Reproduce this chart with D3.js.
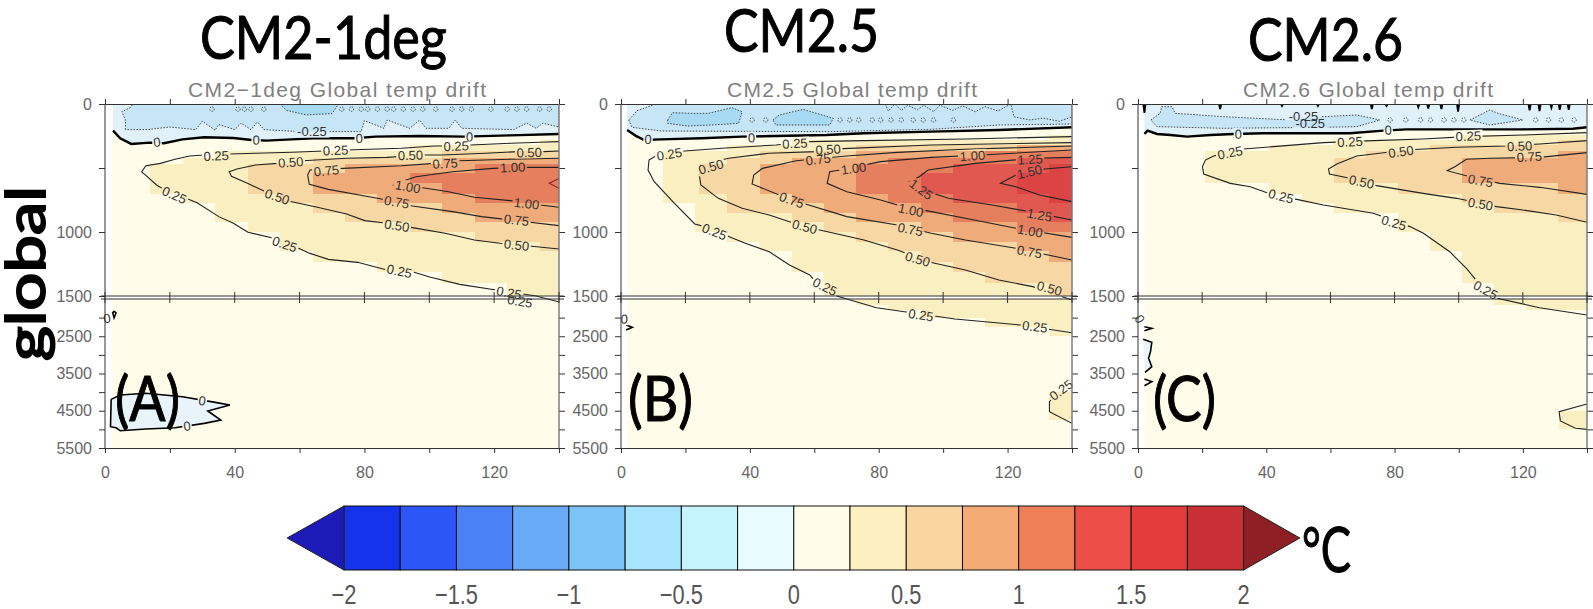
<!DOCTYPE html>
<head>
  <meta charset="utf-8">
  <script src="https://d3js.org/d3.v7.min.js"></script>
  <style>
    body { margin:0; background:#fff; }
    text { font-family: "Liberation Sans", sans-serif; }
    .big { font-family: Lato, "Open Sans", sans-serif; fill:#000; stroke:#000; stroke-width:1px; }
    .tick text { fill:#666; font-size:16px; font-family:"Liberation Sans", sans-serif; }
    .tick line, .domain { stroke:#333; }
  </style>
</head>
<body>
  <script>
    // colour bar
    var barBreaks = [-2,-1.75,-1.5,-1.25,-1,-0.75,-0.5,-0.25,0,0.25,0.5,0.75,1,1.25,1.5,1.75,2];
    var barColors = ["#1433ea","#2c56f5","#4a82f5","#68aaf5","#7cc4f5","#a8e4fb","#c5f4fd","#e8fcfd","#fffdea","#fdefc0","#f9d6a0","#f4ab76","#ee8058","#ec4f48","#e43c3c","#c93035"];
    var barTicks = [-2,-1.5,-1,-0.5,0,0.5,1,1.5,2];

    // colours inside the plots, one per band from 0.25 up
    var bandLevels = [0.25,0.5,0.75,1,1.25,1.5];
    var bandColors = ["#faefc0","#f7d8a4","#efac7a","#e67f5e","#e0584f","#dc4343"];

    // model depth levels, the fill snaps to these
    var gridDepths = [0,40,80,120,160,200,240,280,320,370,420,470,540,620,700,776,850,924,1000,1075,1150,1232,1315,1401,1500,1650,1800,2000,2250,2500,2750,3000,3250,3500,3750,4000,4250,4500,4750,5000,5250,5500];

    var xTicks = [0,20,40,60,80,100,120,140];
    var yTicks = [0,500,1000,1500,2000,2500,3000,3500,4000,4500,5000,5500];
    var yLabels = [0,1000,1500,2500,3500,4500,5500];

    // panel A, contours as [latitude, depth]
    var a0 = [[2.5,208],[4.7,268],[8.1,312],[13.7,302],[18.2,307],[23.9,276],[30.6,260],[39.6,266],[45.2,281],[49.7,286],[57.6,276],[64.4,268],[76.8,268],[83.5,255],[97,250],[110.5,255],[125,245],[140,234]];
    var a025 = [[140,294],[134.1,299],[125.1,307],[112.8,320],[108.3,328],[101.5,328],[91.4,346],[74.5,359],[67.7,367],[57.6,377],[46.4,385],[38.5,391],[30.6,398],[26.1,406],[21.6,432],[17.1,464],[12.6,482],[11.3,531],[12.6,557],[16,635],[18.2,667],[25,737],[28.4,771],[35.1,880],[39.6,932],[44.1,1002],[52,1049],[58.7,1115],[63.2,1167],[68.9,1214],[77.9,1237],[86.9,1297],[94.8,1310],[100.4,1354],[109.4,1409],[120.6,1453],[133,1500],[140,1580]];
    var a050 = [[140,367],[135.3,372],[127.4,372],[117.3,385],[103.8,398],[98.1,398],[86.9,417],[74.5,424],[61,443],[53.1,464],[46.4,477],[40.7,508],[38.3,529],[39,565],[44.1,622],[49.7,687],[57.6,763],[65.5,807],[74.5,859],[80.1,911],[86.9,932],[94.8,966],[104.9,1010],[113.9,1062],[121.8,1088],[130.8,1109],[140,1133]];
    var a075 = [[140,424],[125.1,432],[109.4,443],[101.5,464],[91.4,482],[73.4,503],[63.2,516],[62.5,555],[63,628],[68.9,667],[80.1,719],[86.9,750],[94.8,797],[107.2,841],[116.1,880],[125.1,906],[140,950]];
    var a100 = [[140,495],[128.5,495],[119.6,503],[107.2,529],[95.9,568],[90.3,615],[89.1,633],[95.9,646],[106,685],[113.9,729],[125.1,755],[134.2,789],[140,807]];
    var a125 = [[140,581],[137,620],[140,659]];
    var aCold = [[1.9,4194],[4.7,4078],[12.6,4032],[23.9,4122],[34,4275],[38.5,4346],[31.7,4507],[35.7,4749],[30.6,4838],[21.6,4956],[12.6,4990],[4.7,5035],[3.4,4956],[1.7,4928]];
    var aSpeck = [[2.8,1822],[3.4,1876],[2.8,2002],[2.4,1876],[2.8,1822]];
    var aDash = [[6.3,200],[6.3,125],[5.2,60],[8,25],[8.5,0],[140,0],[140,180],[135,150],[133,190],[130,150],[126,200],[110,190],[108,125],[106,190],[99,190],[97,125],[94,190],[87,125],[86,190],[80,130],[79,216],[60,216],[49,200],[47,140],[45,200],[42,150],[40,200],[35,160],[34,205],[30,135],[28,200],[20,180],[13,200]];
    var aCore = [[54,0],[56,50],[62,85],[70,75],[72,0]];
    var aDotsX = [33,41,43,45,49,73,76,79,81,84,87,89,92,95,98,102,107,110,113,119,124,127,130,134,137];
    var aLabels = [[0,16,297],[0,46.6,281],[0,78.4,268],[0,112.4,255],[0.25,34.3,404],[0.25,71.1,362],[0.25,108.3,329],[0.25,21.4,711],[0.25,55.4,1094],[0.25,90.8,1305],[0.25,124.6,1474],[0.25,128,1560],[0.5,130.8,378],[0.5,94.2,400],[0.5,57.3,455],[0.5,53.1,724],[0.5,90,949],[0.5,126.9,1102],[0.75,104.9,464],[0.75,68.3,521],[0.75,90,766],[0.75,126.9,906],[1,125.7,495],[1,93.4,646],[1,130,778],[-0.25,63.8,216],[0,30,4230],[0,25.3,4910],[0,0.6,2018]];

    // panel B
    var b0 = [[1.9,203],[4.5,247],[7.2,281],[12.4,276],[25,268],[37.6,255],[48.1,250],[63.8,242],[75.4,229],[96.3,216],[117.3,203],[140,182]];
    var b025 = [[140,255],[107.2,273],[75.4,286],[58.6,294],[48.1,320],[31.3,346],[19.7,367],[11.3,398],[8.7,438],[8.4,516],[10.3,607],[16.6,776],[22.9,937],[26,958],[33.4,1036],[38.6,1088],[46,1154],[52.3,1258],[58.6,1336],[61.7,1427],[67,1500],[79.3,1733],[103.7,2037],[124,2198],[140,2405]];
    var b050 = [[140,302],[96.3,320],[69,349],[60.6,372],[45.9,385],[33.4,424],[26,464],[24.2,542],[24.8,633],[30.2,737],[37.6,815],[46,867],[54.4,937],[61.7,984],[75.4,1062],[85.8,1141],[95.3,1232],[106.9,1297],[117.3,1375],[127.8,1427],[140,1526]];
    var b075 = [[140,328],[106.8,354],[85.8,378],[70.1,406],[54.4,443],[43.9,503],[41.2,555],[40.7,625],[49.1,711],[56.5,776],[70.1,880],[85.8,945],[96.3,1010],[106.9,1062],[122.6,1127],[140,1219]];
    var b100 = [[140,359],[112,398],[96.3,417],[80.6,450],[68,516],[64.8,529],[64,620],[70.1,685],[80.6,750],[85.8,789],[96.3,841],[106.9,893],[122.6,971],[140,1042]];
    var b125 = [[140,417],[127.8,424],[110,464],[95.3,516],[92.6,568],[89.5,607],[92.1,659],[101.6,737],[115.2,789],[126.8,841],[140,906]];
    var b150 = [[140,490],[127.8,516],[122.6,555],[117.8,620],[122.6,646],[129.9,711],[140,763]];
    var bWarm = [[140,3809],[136.2,3989],[133,4257],[133,4525],[140,4838]];
    var bSpeck = [[1.6,2198],[3.5,2260],[1.6,2332]];
    var bDash = [[2.4,125],[3.4,182],[12.4,211],[64.8,216],[96.3,198],[117.3,164],[140,156],[140,0],[10.8,0],[5,52]];
    var bCore1 = [[14.5,125],[16,68],[21.8,73],[27.1,73],[34.4,29],[37.6,60],[36.5,151],[28.1,164],[20.8,172],[14.5,151]];
    var bCore2 = [[47.2,125],[49.1,86],[56.5,42],[65.9,112],[64.8,164],[54.4,164],[48.1,164]];
    var bWave = [[82,0],[83,55],[85,0],[87,50],[89,10],[92,45],[94,10],[97,60],[99,10],[103,50],[106,15],[110,60],[113,20],[117,55],[121,0],[122,100],[127,125],[131,110],[136,135],[140,100]];
    var bDotsX = [40.7,44.9,68,71,73.8,78,80.6,83.8,87,90.7,93.8,97,103.2];
    var bLabels = [[0,8.4,276],[0,40.5,263],[0.25,15,391],[0.25,54,307],[0.25,29,997],[0.25,63.3,1427],[0.25,93.1,1930],[0.25,128.5,2243],[0.25,136.6,3940],[0.5,64.3,354],[0.5,27.9,490],[0.5,57,958],[0.5,92.1,1211],[0.5,133,1440],[0.75,61.2,432],[0.75,53,750],[0.75,89.8,979],[0.75,126.8,1154],[1,72.2,503],[1,109.1,404],[1,90,828],[1,127,992],[1.25,127,432],[1.25,93.2,667],[1.25,129.9,867],[1.5,126.8,529],[0,1,2037]];

    // panel C
    var c0 = [[2,234],[3,208],[5.9,234],[10.1,242],[15.3,255],[22.6,242],[29.8,234],[39.1,229],[52.6,229],[66.1,229],[76.5,208],[83.7,198],[99.3,198],[120,198],[135.6,193],[140,182]];
    var c025 = [[140,224],[120,242],[102.4,255],[88.9,273],[73.4,286],[57.8,302],[42.2,333],[31.9,354],[23.6,406],[21,438],[20.1,490],[20.5,547],[28.8,620],[35,646],[40.2,693],[49.5,745],[57.8,789],[73.4,854],[84.8,958],[89,1010],[97.2,1154],[102.4,1284],[107.1,1427],[108.8,1500],[125.2,1733],[140,1930]];
    var c050 = [[140,286],[125.3,312],[114.9,328],[99.3,338],[83.7,359],[68.2,406],[62,469],[59.4,508],[59.7,547],[67.1,586],[74.4,638],[88.9,698],[99.3,737],[111.8,802],[120,828],[130.4,867],[140,924]];
    var c075 = [[140,380],[125.3,417],[109.7,424],[102.4,432],[98.8,490],[96.4,521],[103.5,568],[112.8,620],[125.3,651],[140,706]];
    var cWarm = [[140,4320],[131.3,4525],[131.7,4775],[136.4,4972],[140,5000]];
    var cCold = [[1.6,2583],[4.3,2663],[3.9,2914],[3.3,3092],[4.3,3316],[2.2,3468]];
    var cSpeck1 = [[2,2243],[4.3,2287],[2,2350]];
    var cSpeck2 = [[2,3648],[4.3,3720],[2,3827]];
    var cDash = [[4,125],[6.9,73],[7.4,21],[10.6,21],[11.6,73],[26.7,99],[47.4,125],[57.8,99],[68.2,86],[75.4,125],[68.2,177],[57.8,182],[26.7,190],[5.9,177]];
    var cDash2 = [[103.5,125],[109.7,47],[112.3,73],[120,125],[109.7,164]];
    var cDotsX = [78.6,83.5,88.1,91.2,95.4,98.5,101.6,124,128,132,136];
    var cSpikesX = [2,25.6,44.9,56.1,72.9,77.5,87.4,90.5,94.6,99.8,122.1,125.2,128.9,131.5,134.3];
    var cSpikesD = [70,40,15,15,40,15,25,35,40,60,50,55,30,45,45];
    var cLabels = [[0,31.3,234],[0,78,203],[0.25,28.7,380],[0.25,66.1,294],[0.25,103,250],[0.25,44.6,719],[0.25,79.8,927],[0.25,108.4,1453],[0.5,82,372],[0.5,69.7,607],[0.5,106.8,781],[0.5,119,328],[0.75,122,411],[0.75,106.8,599],[-0.25,51.6,94],[-0.25,53.7,151],[0,0.6,2037]];

    var panels = [
      { id:"a", left:105, right:559, cellOffset:4, title:"CM2\u22121deg Global temp drift", tx:[188,486],
        zero:a0, bands:[[0.25,a025],[0.5,a050],[0.75,a075],[1,a100],[1.25,a125]], cold:[aCold], warm:[],
        dash:[aDash], core:[aCore], wave:[], dots:aDotsX, specks:[aSpeck], labels:aLabels, spikesX:[], spikesD:[] },
      { id:"b", left:621, right:1072, cellOffset:3, title:"CM2.5 Global temp drift", tx:[727,977],
        zero:b0, bands:[[0.25,b025],[0.5,b050],[0.75,b075],[1,b100],[1.25,b125],[1.5,b150]], cold:[], warm:[bWarm],
        dash:[bDash], core:[bCore1,bCore2], wave:[bWave], dots:bDotsX, specks:[bSpeck], labels:bLabels, spikesX:[], spikesD:[] },
      { id:"c", left:1138, right:1587, cellOffset:1, title:"CM2.6 Global temp drift", tx:[1243,1493],
        zero:c0, bands:[[0.25,c025],[0.5,c050],[0.75,c075]], cold:[cCold], warm:[cWarm],
        dash:[cDash,cDash2], core:[], wave:[], dots:cDotsX, specks:[cSpeck1,cSpeck2], labels:cLabels, spikesX:cSpikesX, spikesD:cSpikesD }
    ];

    var svg = d3.select("body").append("svg").attr("width", 1593).attr("height", 609);
    var defs = svg.append("defs");

    // the 1500 m break sits in the depth scale
    var y = d3.scaleLinear().domain([0,1500,1500.01,5500]).range([104,296,299,448]);
    var bandColor = d3.scaleThreshold().domain(bandLevels.slice(1)).range(bandColors);

    function crossings(pts, c) {
      var out = [];
      for (var i = 0; i < pts.length - 1; i++) {
        var a = pts[i], b = pts[i+1];
        if ((a[0] - c) * (b[0] - c) <= 0 && a[0] != b[0]) {
          out.push(a[1] + (b[1] - a[1]) * (c - a[0]) / (b[0] - a[0]));
        }
      }
      return out.sort(d3.ascending);
    }
    function snap(d) {
      return gridDepths[d3.leastIndex(gridDepths, function(g) { return Math.abs(g - d); })];
    }
    function cellsFor(bands, offset) {
      var cells = [];
      bands.forEach(function(band) {
        var nose = d3.min(band[1], function(d) { return d[0]; });
        d3.range(offset - 10, 140, 10).forEach(function(c0) {
          var hits = crossings(band[1], Math.min(c0 + 5, 139.9));
          for (var i = 0; i + 1 < hits.length; i += 2) {
            var top = snap(hits[i]), bot = snap(hits[i+1]);
            for (var k = 0; k < gridDepths.length - 1; k++) {
              if (gridDepths[k] >= top && gridDepths[k+1] <= bot) {
                cells.push({ level:band[0], x0:Math.max(c0, 2, nose), x1:Math.min(c0 + 10, 140), d0:gridDepths[k], d1:gridDepths[k+1] });
              }
            }
          }
        });
      });
      return cells;
    }

    panels.forEach(function(p) {
      var x = d3.scaleLinear().domain([0,140]).range([p.left, p.right]);
      var g = svg.append("g");
      var line = d3.line().x(function(d) { return x(d[0]); }).y(function(d) { return y(d[1]); });
      var closed = function(pts) { return line(pts) + "Z"; };

      defs.append("clipPath").attr("id", "clip-" + p.id).append("rect")
        .attr("x", x(0)).attr("y", y(0)).attr("width", x(140) - x(0)).attr("height", y(5500) - y(0));

      // background band
      [[0,1500],[1500.01,5500]].forEach(function(r) {
        g.append("rect").attr("x", x(2)).attr("y", y(r[0])).attr("width", x(140) - x(2))
          .attr("height", y(r[1]) - y(r[0])).attr("fill", "#fffdea");
      });

      // blocky warm fill, one cell per model box
      g.append("g").attr("shape-rendering", "crispEdges").selectAll("rect")
        .data(cellsFor(p.bands, p.cellOffset).concat(cellsFor(p.warm.map(function(w) { return [0.25, w]; }), p.cellOffset)))
        .enter().append("rect")
        .attr("x", function(d) { return x(d.x0); })
        .attr("width", function(d) { return x(d.x1) - x(d.x0); })
        .attr("y", function(d) { return y(d.d0 == 1500 ? 1500.01 : d.d0); })
        .attr("height", function(d) { return y(d.d1) - y(d.d0 == 1500 ? 1500.01 : d.d0); })
        .attr("fill", function(d) { return bandColor(d.level); });

      // cold water above the zero line
      g.append("path").attr("d", closed(p.zero.concat([[140,0],[p.zero[0][0],0]]))).attr("fill", "#e0f1fa");
      p.cold.forEach(function(c) { g.append("path").attr("d", closed(c)).attr("fill", "#e8f3fa"); });
      p.dash.forEach(function(c) { g.append("path").attr("d", closed(c)).attr("fill", "#c6e6f7"); });
      p.core.forEach(function(c) { g.append("path").attr("d", closed(c)).attr("fill", "#a8daf4"); });

      // masks cut the lines under the contour labels
      var maskId = "mask-" + p.id;
      var mask = defs.append("mask").attr("id", maskId).attr("maskUnits", "userSpaceOnUse")
        .attr("x", 0).attr("y", 0).attr("width", 1593).attr("height", 609);
      mask.append("rect").attr("width", 1593).attr("height", 609).attr("fill", "#fff");

      var lines = g.append("g").attr("clip-path", "url(#clip-" + p.id + ")")
        .append("g").attr("mask", "url(#" + maskId + ")").attr("fill", "none");

      p.bands.forEach(function(b) {
        lines.append("path").attr("d", line(b[1])).attr("stroke", b[0] >= 1.25 && p.id == "a" ? "#8a1f2a" : "#222").attr("stroke-width", 1.1);
      });
      p.warm.forEach(function(b) { lines.append("path").attr("d", line(b)).attr("stroke", "#222").attr("stroke-width", 1.1); });
      lines.append("path").attr("d", line(p.zero)).attr("stroke", "#000").attr("stroke-width", 2.4);
      p.cold.forEach(function(b) { lines.append("path").attr("d", line(b.concat(p.id == "a" ? [b[0]] : []))).attr("stroke", "#000").attr("stroke-width", 1.6); });
      p.specks.forEach(function(b) { lines.append("path").attr("d", line(b)).attr("stroke", "#000").attr("stroke-width", 1.6); });

      p.dash.concat(p.core).forEach(function(b) {
        lines.append("path").attr("d", closed(b)).attr("stroke", "#222").attr("stroke-width", 0.8).attr("stroke-dasharray", "1.5 1.5");
      });
      p.wave.forEach(function(b) {
        lines.append("path").attr("d", line(b)).attr("stroke", "#222").attr("stroke-width", 0.8).attr("stroke-dasharray", "1.5 1.5");
      });
      lines.selectAll("circle").data(p.dots).enter().append("circle")
        .attr("cx", function(d) { return x(d); }).attr("cy", y(p.id == "a" ? 40 : 125)).attr("r", 2.2)
        .attr("stroke", "#222").attr("stroke-width", 0.8).attr("stroke-dasharray", "1.2 1.2");
      p.spikesX.forEach(function(sx, i) {
        lines.append("path").attr("d", line([[sx - 0.35,0],[sx,p.spikesD[i]],[sx + 0.35,0]])).attr("stroke", "#000").attr("stroke-width", 1.8);
      });

      // contour labels, turned along the nearest line
      var allLines = [[0,p.zero]].concat(p.bands).concat(p.warm.map(function(w) { return [0.25,w]; }))
        .concat(p.cold.map(function(w) { return [0,w]; }));
      var labelG = g.append("g");
      p.labels.forEach(function(l) {
        var px = x(l[1]), py = y(l[2]), angle = 0, best = 1e9;
        allLines.forEach(function(b) {
          if (b[0] != l[0]) return;
          var pts = b[1];
          for (var i = 0; i < pts.length - 1; i++) {
            var mx = (x(pts[i][0]) + x(pts[i+1][0])) / 2, my = (y(pts[i][1]) + y(pts[i+1][1])) / 2;
            var dist = Math.hypot(mx - px, my - py);
            if (dist < best) {
              best = dist;
              var a = pts[Math.max(i - 1, 0)], c = pts[Math.min(i + 2, pts.length - 1)];
              var dx = x(c[0]) - x(a[0]), dy = y(c[1]) - y(a[1]);
              if (dx < 0) { dx = -dx; dy = -dy; }
              angle = Math.atan2(dy, dx) * 180 / Math.PI;
            }
          }
        });
        var txt = l[0] == 0 ? "0" : l[0].toFixed(2);
        var w = txt.length * 6.4 + 3;
        mask.append("rect").attr("x", -w/2).attr("y", -6).attr("width", w).attr("height", 12).attr("fill", "#000")
          .attr("transform", "translate(" + px + "," + py + ") rotate(" + angle + ")");
        labelG.append("text").text(txt).attr("text-anchor", "middle").attr("dy", "0.36em")
          .attr("transform", "translate(" + px + "," + py + ") rotate(" + angle + ")")
          .style("font-size", "13px").style("fill", "#333");
      });

      // axes
      var bottom = d3.axisBottom(x).tickValues(xTicks).tickSize(5).tickPadding(14)
        .tickFormat(function(d) { return d % 40 == 0 && d < 140 ? d : ""; });
      g.append("g").attr("transform", "translate(0," + y(5500) + ")").call(bottom);
      var top = d3.axisTop(x).tickValues(xTicks).tickSize(5).tickFormat("");
      g.append("g").attr("transform", "translate(0," + y(0) + ")").call(top);
      var left = d3.axisLeft(y).tickValues(yTicks).tickSize(6).tickPadding(7)
        .tickFormat(function(d) { return yLabels.indexOf(d) >= 0 ? d : ""; });
      var leftG = g.append("g").attr("transform", "translate(" + x(0) + ",0)").call(left);
      leftG.selectAll("path.domain").remove();
      var right = d3.axisRight(y).tickValues(yTicks).tickSize(6).tickFormat("");
      var rightG = g.append("g").attr("transform", "translate(" + x(140) + ",0)").call(right);
      rightG.selectAll("path.domain").remove();
      g.append("line").attr("x1", x(0)).attr("x2", x(0)).attr("y1", y(0)).attr("y2", y(5500)).attr("stroke", "#333");
      g.append("line").attr("x1", x(140)).attr("x2", x(140)).attr("y1", y(0)).attr("y2", y(5500)).attr("stroke", "#777").attr("stroke-width", 1.4);
      [1500,1500.01].forEach(function(d) {
        g.append("line").attr("x1", x(0) - 4).attr("x2", x(140) + 5).attr("y1", y(d)).attr("y2", y(d)).attr("stroke", "#333");
      });
      xTicks.forEach(function(t) {
        g.append("line").attr("x1", x(t)).attr("x2", x(t)).attr("y1", y(1500) - 4).attr("y2", y(1500.01) + 4).attr("stroke", "#333");
      });

      // thin title of the original figure
      g.append("text").text(p.title).attr("x", p.tx[0]).attr("y", 97)
        .attr("textLength", p.tx[1] - p.tx[0]).style("font-size", "21px").style("fill", "#808080");
    });

    // big hand added labels
    var bigLabels = [
      ["CM2-1deg", 200, 447, 59, 60], ["CM2.5", 724, 879, 52, 60], ["CM2.6", 1248, 1403, 61, 60],
      ["(A)", 115, 180, 421, 62], ["(B)", 628, 693, 421, 62], ["(C)", 1153, 1216, 421, 62],
      ["\u00b0C", 1302, 1351, 572, 62]
    ];
    svg.selectAll("text.big").data(bigLabels).enter().append("text").attr("class", "big")
      .text(function(d) { return d[0]; })
      .attr("x", function(d) { return d[1]; })
      .attr("y", function(d) { return d[3]; })
      .attr("textLength", function(d) { return d[2] - d[1]; })
      .attr("lengthAdjust", "spacingAndGlyphs")
      .style("font-size", function(d) { return d[4] + "px"; });
    svg.append("text").attr("class", "big").text("global")
      .attr("transform", "translate(45,361) rotate(-90)")
      .attr("textLength", 175).attr("lengthAdjust", "spacingAndGlyphs")
      .style("font-size", "55px").style("stroke-width", "2px");

    // colour bar
    var bar = d3.scaleLinear().domain([-2,2]).range([344,1243.6]);
    var barY = d3.scaleLinear().domain([0,1]).range([506,570]);
    var barG = svg.append("g");
    var barCells = d3.range(barColors.length);
    barG.selectAll("rect").data(barCells).enter().append("rect")
      .attr("x", function(i) { return bar(barBreaks[i]); })
      .attr("y", barY(0))
      .attr("width", function(i) { return bar(barBreaks[i+1]) - bar(barBreaks[i]); })
      .attr("height", barY(1) - barY(0))
      .attr("fill", function(i) { return barColors[i]; })
      .attr("stroke", "#111").attr("stroke-width", 1);
    var tipLine = d3.line().x(function(d) { return bar(d[0]); }).y(function(d) { return barY(d[1]); });
    barG.append("path").attr("d", tipLine([[-2,0],[-2.253,0.5],[-2,1]]) + "Z").attr("fill", "#1c1bb8").attr("stroke", "#222");
    barG.append("path").attr("d", tipLine([[2,0],[2.25,0.5],[2,1]]) + "Z").attr("fill", "#8e1f25").attr("stroke", "#222");
    barG.selectAll("text").data(barTicks).enter().append("text")
      .text(function(d) { return d3.format("")(d).replace("-", "\u2212"); })
      .attr("transform", function(d) { return "translate(" + bar(d) + ",604) scale(0.78,1)"; })
      .attr("text-anchor", "middle")
      .style("font-size", "28px").style("fill", "#555");
  </script>
</body>
